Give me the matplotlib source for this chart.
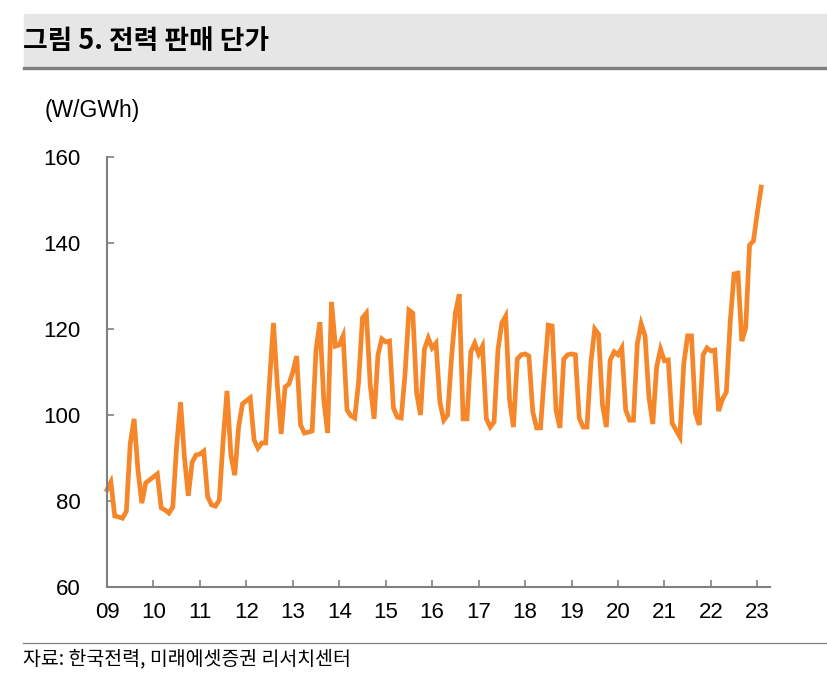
import numpy as np
import matplotlib
matplotlib.use("Agg")
import matplotlib.pyplot as plt
from matplotlib.patches import Rectangle
from matplotlib.lines import Line2D

#### Data ####
# monthly unit price of electricity sales, Jan 2009 - Feb 2023 (W/GWh as labelled)
price = [
    82.6, 84.4, 76.5, 76.3, 76.0, 77.6, 93.3, 99.1, 87.2, 79.5, 84.2, 84.9,
    85.6, 86.3, 78.4, 77.9, 77.2, 78.6, 93.0, 103.0, 90.2, 81.2, 89.0, 90.7,
    90.9, 91.6, 81.0, 79.1, 78.8, 80.2, 94.0, 105.6, 90.7, 86.0, 97.2, 102.6,
    103.3, 104.0, 94.2, 92.3, 93.5, 93.5, 108.0, 121.4, 107.0, 95.6, 106.5, 107.2,
    110.0, 113.7, 97.7, 95.8, 96.0, 96.3, 115.1, 121.6, 103.5, 95.8, 126.3, 116.0,
    116.3, 118.4, 101.2, 99.8, 99.3, 107.7, 122.6, 123.7, 107.0, 99.1, 114.0, 117.7,
    117.0, 117.2, 101.6, 99.5, 99.3, 109.5, 124.4, 123.7, 105.1, 100.0, 115.3, 117.9,
    115.6, 116.7, 103.0, 98.8, 100.0, 113.3, 123.7, 128.1, 99.1, 99.1, 114.7, 116.7,
    114.2, 116.0, 99.1, 97.2, 98.4, 115.1, 121.4, 123.0, 103.5, 97.2, 113.0, 114.0,
    114.2, 113.7, 100.7, 97.0, 97.0, 109.5, 120.9, 120.7, 101.2, 97.0, 113.0, 114.0,
    114.2, 114.0, 99.3, 97.2, 97.2, 112.1, 120.0, 118.8, 102.3, 97.2, 112.8, 114.7,
    114.0, 115.6, 101.2, 98.8, 98.8, 116.5, 121.2, 118.4, 104.2, 97.9, 111.2, 115.3,
    112.6, 112.8, 98.1, 96.5, 94.9, 111.9, 118.4, 118.4, 100.5, 97.7, 114.0, 115.6,
    114.9, 115.1, 100.9, 103.7, 105.3, 121.6, 132.8, 133.0, 117.2, 120.2, 139.5, 140.5,
    147.0, 153.0,
]
years = list(range(2009, 2024))
year_labels = ['09', '10', '11', '12', '13', '14', '15', '16', '17', '18', '19', '20', '21', '22', '23']
yticks = [60, 80, 100, 120, 140, 160]

x = 2009 + np.arange(len(price)) / 12.0

#### Plot ####
plt.rcParams['font.family'] = ['Liberation Sans', 'Noto Sans CJK KR', 'DejaVu Sans']
kr = ['Noto Sans CJK KR', 'DejaVu Sans']

W, H = 828, 694
fig = plt.figure(figsize=(W / 100, H / 100), dpi=100)

# header band
fig.patches.append(Rectangle((24 / W, 1 - 67 / H), 1 - 24 / W, 53 / H,
                             transform=fig.transFigure, color='#e6e6e6', zorder=0))
fig.lines.append(Line2D([24 / W, 1], [1 - 68 / H, 1 - 68 / H], transform=fig.transFigure,
                        color='#7f7f7f', lw=2.4))
fig.text(23 / W, 1 - 41 / H, '그림 5. 전력 판매 단가', family=kr, fontsize=19.3,
         fontweight='bold', va='center', ha='left', color='black')

# footer
fig.lines.append(Line2D([23 / W, 1], [1 - 643 / H, 1 - 643 / H], transform=fig.transFigure,
                        color='#808080', lw=0.9))
fig.text(23 / W, 1 - 659 / H, '자료: 한국전력, 미래에셋증권 리서치센터', family=kr, fontsize=14,
         va='center', ha='left', color='black')

ax = fig.add_axes([107 / W, 1 - 587 / H, (770 - 107) / W, (587 - 157) / H])
ax.plot(x, price, color='#f5862a', lw=3.4, solid_joinstyle='miter', clip_on=False)

ax.set_xlim(2009, 2009 + (770 - 107) / 46.45)
ax.set_ylim(60, 160)
ax.set_xticks(years)
ax.set_xticklabels(year_labels)
ax.set_yticks(yticks)

for s in ['top', 'right']:
    ax.spines[s].set_visible(False)
for s in ['left', 'bottom']:
    ax.spines[s].set_color('#808080')
    ax.spines[s].set_linewidth(1.5)

ax.tick_params(axis='both', direction='in', length=5, width=1.2, color='#808080',
               labelsize=16, labelcolor='black')
ax.tick_params(axis='y', pad=19)
ax.tick_params(axis='x', pad=11)

fig.text(45 / W, 1 - 110 / H, '(W/GWh)', fontsize=16.5, va='center', ha='left')

plt.savefig('out.png', dpi=100)
plt.close()
